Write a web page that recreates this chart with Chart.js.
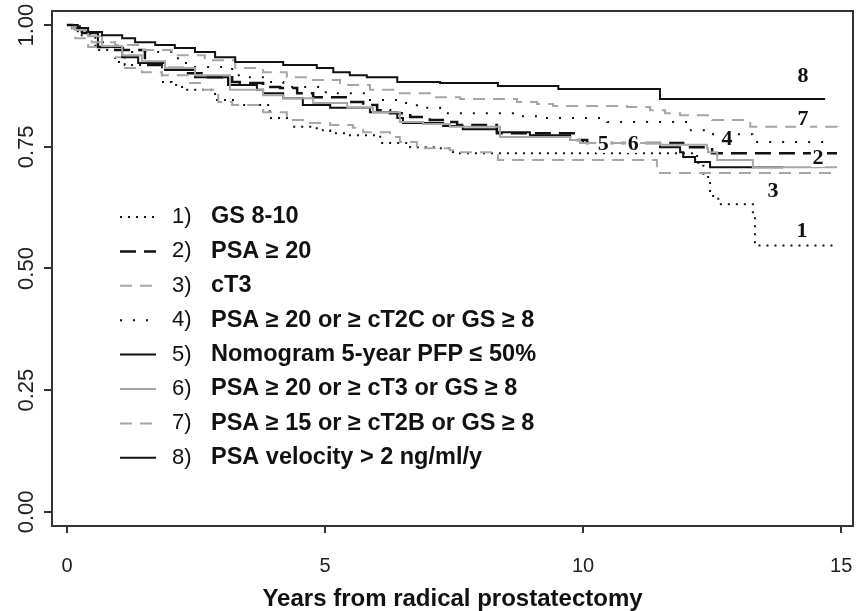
<!DOCTYPE html>
<html>
<head>
<meta charset="utf-8">
<script src="https://cdn.jsdelivr.net/npm/chart.js@4"></script>
<style>
  html, body { margin: 0; padding: 0; background: #fff; }
  #wrap { width: 856px; height: 611px; }
</style>
</head>
<body>
<div id="wrap"><canvas id="km" width="856" height="611"></canvas></div>
<script>
// Kaplan-Meier curves (years, survival), step drops
const seriesNames = [
    'GS 8-10',
    'PSA \u2265 20',
    'cT3',
    'PSA \u2265 20 or \u2265 cT2C or GS \u2265 8',
    'Nomogram 5-year PFP \u2264 50%',
    'PSA \u2265 20 or \u2265 cT3 or GS \u2265 8',
    'PSA \u2265 15 or \u2265 cT2B or GS \u2265 8',
    'PSA velocity > 2 ng/ml/y',
];

const years1 = [0, 0.21, 0.55, 0.93, 1.12, 1.84, 2.03, 2.23, 2.87, 3.26, 3.93, 4.38, 4.84, 5.10, 5.43, 6.07, 6.65, 7.17, 7.48, 12.21, 12.33, 12.46, 12.62, 13.29, 13.33, 14.94];
const surv1  = [1, 0.979, 0.949, 0.924, 0.918, 0.883, 0.877, 0.867, 0.846, 0.836, 0.809, 0.791, 0.784, 0.778, 0.774, 0.758, 0.749, 0.747, 0.737, 0.717, 0.688, 0.649, 0.632, 0.608, 0.547, 0.547];

const years2 = [0, 0.10, 0.29, 0.60, 0.79, 1.51, 1.90, 2.29, 2.73, 3.20, 3.35, 3.80, 4.13, 4.46, 4.77, 5.43, 5.74, 6.01, 6.26, 6.65, 7.03, 7.36, 7.56, 8.33, 9.88, 10.08, 11.94, 12.50, 14.92];
const surv2  = [1, 0.994, 0.984, 0.955, 0.949, 0.918, 0.912, 0.901, 0.893, 0.883, 0.881, 0.873, 0.871, 0.860, 0.852, 0.842, 0.836, 0.825, 0.819, 0.811, 0.805, 0.801, 0.795, 0.778, 0.764, 0.758, 0.749, 0.737, 0.737];

const years3 = [0, 0.16, 0.41, 0.93, 1.12, 1.45, 1.84, 2.34, 2.62, 2.93, 3.20, 3.80, 4.26, 4.65, 5.10, 5.54, 5.74, 6.26, 6.45, 6.78, 7.42, 7.56, 8.35, 11.43, 14.92];
const surv3  = [1, 0.986, 0.955, 0.934, 0.912, 0.903, 0.897, 0.881, 0.867, 0.842, 0.836, 0.821, 0.805, 0.799, 0.795, 0.789, 0.780, 0.770, 0.760, 0.747, 0.743, 0.739, 0.723, 0.696, 0.696];

const years4 = [0, 0.25, 0.60, 0.93, 1.26, 2.15, 2.42, 3.20, 3.49, 3.90, 4.19, 4.90, 5.16, 5.81, 6.51, 6.78, 6.90, 7.23, 8.72, 9.17, 10.47, 12.02, 12.52, 13.28, 14.83];
const surv4  = [1, 0.986, 0.965, 0.953, 0.945, 0.922, 0.914, 0.897, 0.893, 0.883, 0.873, 0.862, 0.860, 0.846, 0.840, 0.832, 0.830, 0.819, 0.813, 0.809, 0.801, 0.784, 0.776, 0.760, 0.760];

const years5 = [0, 0.10, 0.29, 0.60, 1.07, 1.38, 1.90, 2.48, 3.12, 3.68, 3.80, 4.19, 4.57, 5.10, 5.87, 6.40, 6.51, 7.29, 7.67, 8.33, 8.97, 9.75, 10.00, 11.49, 11.88, 11.94, 12.17, 12.46, 13.88];
const surv5  = [1, 0.994, 0.984, 0.955, 0.934, 0.922, 0.908, 0.893, 0.877, 0.867, 0.860, 0.850, 0.836, 0.830, 0.821, 0.809, 0.799, 0.793, 0.786, 0.780, 0.774, 0.764, 0.758, 0.749, 0.739, 0.729, 0.719, 0.708, 0.708];

const years6 = [0, 0.16, 0.41, 0.68, 1.07, 1.45, 1.90, 2.48, 3.16, 3.80, 4.19, 4.77, 5.43, 5.93, 6.45, 6.90, 7.42, 8.39, 9.75, 9.94, 11.49, 12.40, 12.42, 12.60, 13.29, 14.92];
const surv6  = [1, 0.990, 0.977, 0.957, 0.938, 0.926, 0.912, 0.897, 0.867, 0.856, 0.850, 0.840, 0.830, 0.821, 0.801, 0.797, 0.791, 0.770, 0.764, 0.758, 0.754, 0.747, 0.739, 0.723, 0.708, 0.708];

const years7 = [0, 0.10, 0.16, 0.48, 0.93, 1.45, 2.03, 2.67, 3.26, 3.80, 4.26, 4.71, 5.29, 5.87, 6.45, 7.03, 7.62, 8.72, 9.11, 9.42, 10.85, 11.30, 11.59, 11.88, 12.50, 13.24, 14.92];
const surv7  = [1, 0.994, 0.973, 0.965, 0.959, 0.949, 0.938, 0.928, 0.912, 0.903, 0.893, 0.887, 0.877, 0.867, 0.860, 0.852, 0.848, 0.842, 0.838, 0.834, 0.832, 0.825, 0.819, 0.815, 0.805, 0.791, 0.789];

const years8 = [0, 0.21, 0.41, 0.68, 1.07, 1.32, 1.71, 2.09, 2.48, 2.87, 3.26, 4.19, 4.84, 5.16, 5.48, 5.81, 6.40, 7.23, 8.35, 9.52, 11.49, 14.69];
const surv8  = [1, 0.994, 0.986, 0.979, 0.973, 0.965, 0.959, 0.953, 0.945, 0.934, 0.924, 0.918, 0.912, 0.903, 0.897, 0.893, 0.883, 0.881, 0.875, 0.869, 0.848, 0.848];

const xTicks = [0, 5, 10, 15];
const yTicks = [0, 0.25, 0.5, 0.75, 1];
const yTickLabels = ['0.00', '0.25', '0.50', '0.75', '1.00'];

// numbers written next to the curves: [text, year, survival]
const curveTags = [
    ['8', 14.26, 0.897],
    ['7', 14.26, 0.809],
    ['4', 12.79, 0.768],
    ['2', 14.55, 0.729],
    ['3', 13.68, 0.661],
    ['1', 14.24, 0.579],
    ['5', 10.39, 0.758],
    ['6', 10.97, 0.758],
];

const BLACK = '#111';
const GREY = '#a6a6a6';
const STYLES = [
    { color: BLACK, width: 2,   dash: [2, 6] },
    { color: BLACK, width: 2.5, dash: [16, 8] },
    { color: GREY,  width: 2,   dash: [12, 8] },
    { color: BLACK, width: 2,   dash: [2, 11] },
    { color: BLACK, width: 2,   dash: [] },
    { color: GREY,  width: 2,   dash: [] },
    { color: GREY,  width: 2,   dash: [12, 8] },
    { color: BLACK, width: 2,   dash: [] },
];

const allYears = [years1, years2, years3, years4, years5, years6, years7, years8];
const allSurv = [surv1, surv2, surv3, surv4, surv5, surv6, surv7, surv8];

const FONT = '"Liberation Sans", Arial, sans-serif';

const datasets = seriesNames.map((name, i) => ({
    label: name,
    data: allYears[i].map((x, j) => ({ x, y: allSurv[i][j] })),
    borderColor: STYLES[i].color,
    borderWidth: STYLES[i].width,
    borderDash: STYLES[i].dash,
    stepped: true,
    pointRadius: 0,
    fill: false,
    order: 8 - i,
}));

const framePlugin = {
    id: 'frame',
    afterDraw(chart) {
        const { ctx, chartArea: a, scales } = chart;
        ctx.save();
        ctx.strokeStyle = '#333';
        ctx.lineWidth = 2;
        ctx.strokeRect(a.left, a.top, a.right - a.left, a.bottom - a.top);

        // curve numbers
        ctx.font = 'bold 22px "Liberation Serif", "Times New Roman", serif';
        ctx.textAlign = 'center';
        ctx.textBaseline = 'middle';
        curveTags.forEach(([t, x, y]) => {
            const px = scales.x.getPixelForValue(x);
            const py = scales.y.getPixelForValue(y);
            ctx.fillStyle = '#fff';
            ctx.fillRect(px - 7, py - 10, 14, 20);
            ctx.fillStyle = BLACK;
            ctx.fillText(t, px, py + 1);
        });

        // legend
        const rowY0 = 217, rowStep = 34.4;
        seriesNames.forEach((name, i) => {
            const y = rowY0 + i * rowStep;
            ctx.strokeStyle = STYLES[i].color;
            ctx.lineWidth = STYLES[i].width;
            ctx.setLineDash(STYLES[i].dash);
            ctx.beginPath();
            ctx.moveTo(120, y);
            ctx.lineTo(156, y);
            ctx.stroke();
            ctx.setLineDash([]);
            ctx.fillStyle = BLACK;
            ctx.textAlign = 'left';
            ctx.font = '22px ' + FONT;
            ctx.fillText((i + 1) + ')', 172, y);
            ctx.font = 'bold 23.5px ' + FONT;
            ctx.fillText(name, 211, y);
        });
        ctx.restore();
    },
};

new Chart(document.getElementById('km'), {
    type: 'line',
    data: { datasets },
    options: {
        responsive: false,
        animation: false,
        events: [],
        layout: { padding: { top: 11, right: 3, left: 0, bottom: 0 } },
        plugins: {
            legend: { display: false },
            tooltip: { enabled: false },
        },
        scales: {
            x: {
                type: 'linear',
                min: -0.29,
                max: 15.23,
                afterBuildTicks: s => { s.ticks = xTicks.map(v => ({ value: v })); },
                afterFit: s => { s.height = 85; s.paddingLeft = 0; s.paddingRight = 0; },
                ticks: {
                    color: '#222',
                    font: { size: 20, family: FONT },
                    padding: 21,
                    maxRotation: 0,
                    autoSkip: false,
                    callback: v => String(v),
                },
                grid: { drawOnChartArea: false, tickLength: 7, color: '#333', lineWidth: 2 },
                border: { display: false },
                title: {
                    display: true,
                    text: 'Years from radical prostatectomy',
                    color: BLACK,
                    font: { size: 24, weight: 'bold', family: FONT, lineHeight: 1 },
                    padding: { top: 0, bottom: 0 },
                },
            },
            y: {
                type: 'linear',
                min: -0.029,
                max: 1.029,
                afterBuildTicks: s => { s.ticks = yTicks.map(v => ({ value: v })); },
                afterFit: s => { s.width = 52; s.paddingTop = 0; s.paddingBottom = 0; },
                ticks: {
                    color: '#222',
                    font: { size: 22, family: FONT },
                    minRotation: 90,
                    maxRotation: 90,
                    crossAlign: 'center',
                    padding: -4,
                    autoSkip: false,
                    callback: v => yTickLabels[yTicks.indexOf(v)],
                },
                grid: { drawOnChartArea: false, tickLength: 8, color: '#333', lineWidth: 2 },
                border: { display: false },
            },
        },
    },
    plugins: [framePlugin],
});
</script>
</body>
</html>
